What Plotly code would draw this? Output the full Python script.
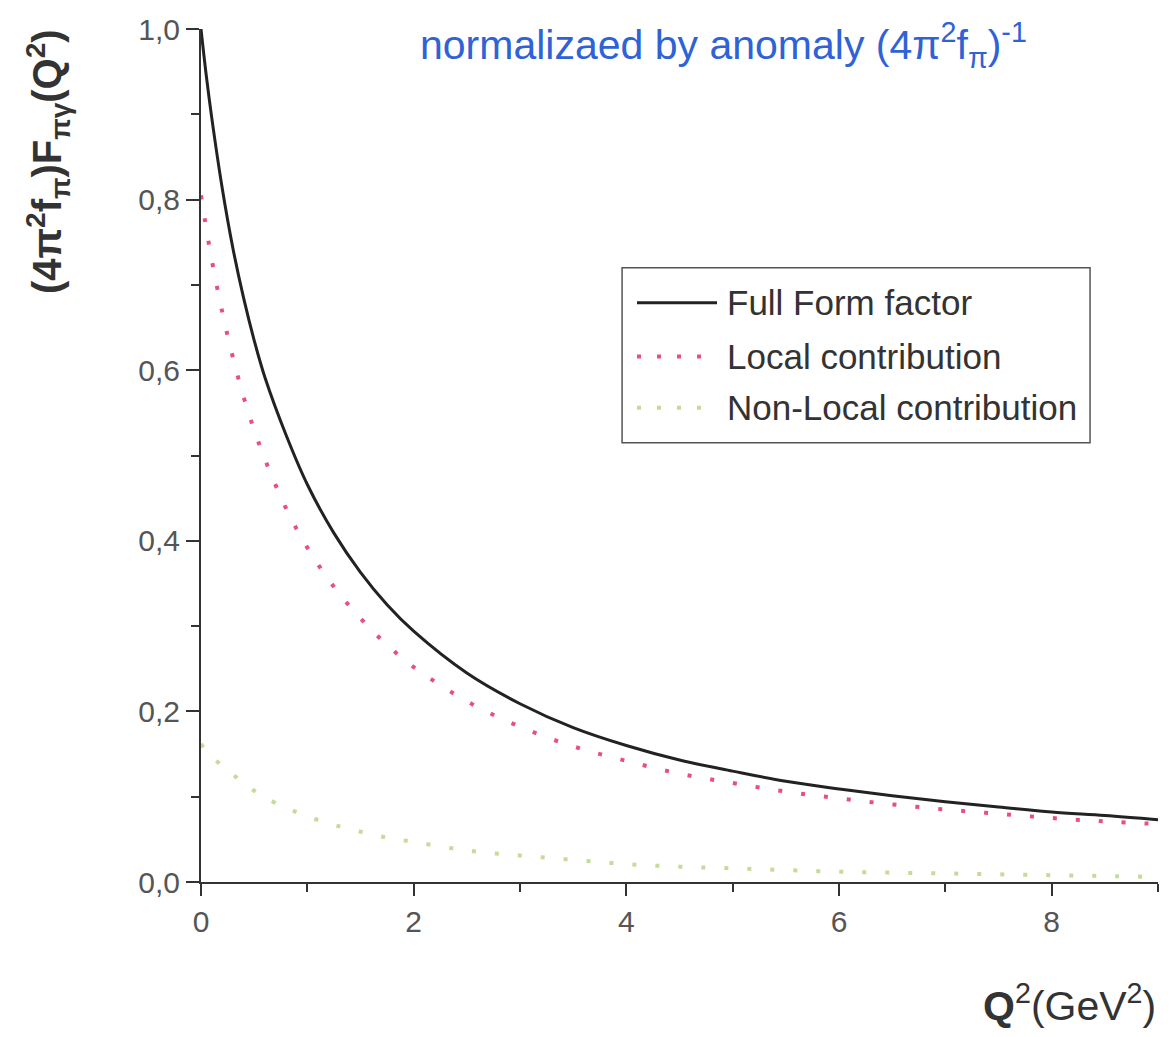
import plotly.graph_objects as go

# ---- data ----
q2 = [0, 0.05, 0.1, 0.2, 0.3, 0.4, 0.5, 0.6, 0.8, 1.0, 1.25, 1.5, 1.75, 2.0,
      2.5, 3.0, 3.5, 4.0, 4.5, 5.0, 5.5, 6.0, 6.5, 7.0, 7.5, 8.0, 8.5, 9.0]
full_ff = [1.0, 0.945, 0.897, 0.813, 0.743, 0.685, 0.635, 0.592, 0.524, 0.466,
           0.409, 0.363, 0.325, 0.294, 0.245, 0.209, 0.181, 0.160, 0.143, 0.130,
           0.118, 0.109, 0.101, 0.094, 0.088, 0.082, 0.078, 0.073]
local_c = [0.805, 0.766, 0.730, 0.668, 0.615, 0.569, 0.530, 0.496, 0.438, 0.392,
           0.346, 0.309, 0.278, 0.252, 0.212, 0.182, 0.159, 0.142, 0.127, 0.116,
           0.106, 0.098, 0.091, 0.085, 0.080, 0.075, 0.071, 0.068]
nonlocal_c = [0.162, 0.153, 0.147, 0.136, 0.126, 0.116, 0.107, 0.099, 0.087, 0.077,
              0.067, 0.059, 0.052, 0.047, 0.037, 0.031, 0.026, 0.021, 0.018, 0.016,
              0.014, 0.012, 0.011, 0.010, 0.009, 0.008, 0.007, 0.006]

series_names = ["Full Form factor", "Local contribution", "Non-Local contribution"]
x_ticks = [0, 2, 4, 6, 8]
y_ticks = [0.0, 0.2, 0.4, 0.6, 0.8, 1.0]
y_tick_text = ["0,0", "0,2", "0,4", "0,6", "0,8", "1,0"]

FONT = "Liberation Sans, Arial, sans-serif"
C_FULL = "#222222"
C_LOCAL = "#e8507a"
C_NONLOCAL = "#c4dc98"
DOTS = "4px,19px"

fig = go.Figure()
fig.add_trace(go.Scatter(x=q2, y=full_ff, mode="lines", name=series_names[0],
                         line=dict(color=C_FULL, width=3, shape="spline"),
                         showlegend=False))
fig.add_trace(go.Scatter(x=q2, y=local_c, mode="lines", name=series_names[1],
                         line=dict(color=C_LOCAL, width=4, shape="spline", dash=DOTS),
                         showlegend=False))
fig.add_trace(go.Scatter(x=q2, y=nonlocal_c, mode="lines", name=series_names[2],
                         line=dict(color=C_NONLOCAL, width=4, shape="spline", dash=DOTS),
                         showlegend=False))

# manual legend (box, samples, labels)
lx0, lx1, ly0, ly1 = 0.440, 0.929, 0.515, 0.720
fig.add_shape(type="rect", xref="paper", yref="paper", x0=lx0, x1=lx1, y0=ly0, y1=ly1,
              line=dict(color="#555555", width=1.5), fillcolor="rgba(0,0,0,0)")
entry_y = [0.679, 0.616, 0.556]
styles = [dict(color=C_FULL, width=3),
          dict(color=C_LOCAL, width=4, dash="4px,16px"),
          dict(color=C_NONLOCAL, width=4, dash="4px,16px")]
for yy, st, nm in zip(entry_y, styles, series_names):
    fig.add_shape(type="line", xref="paper", yref="paper", x0=0.4556, x1=0.5392,
                  y0=yy, y1=yy, line=st)
    fig.add_annotation(xref="paper", yref="paper", x=0.5480, y=yy, text=nm,
                       showarrow=False, xanchor="left", yanchor="middle",
                       font=dict(family=FONT, size=35, color="#333333"))

# note at top
fig.add_annotation(xref="paper", yref="paper", x=0.546, y=0.981,
                   text="normalizaed by anomaly (4π<sup>2</sup>f<sub>π</sub>)<sup>-1</sup>",
                   showarrow=False, xanchor="center", yanchor="middle",
                   font=dict(family=FONT, size=41, color="#2f62d6"))

# y axis title
fig.add_annotation(xref="paper", yref="paper", x=-0.160, y=0.845,
                   text="<b>(4π<sup>2</sup>f<sub>π</sub>)F<sub>πγ</sub>(Q<sup>2</sup>)</b>",
                   showarrow=False, textangle=-90, xanchor="center", yanchor="middle",
                   font=dict(family=FONT, size=40, color="#333333"))

# x axis title
fig.add_annotation(xref="paper", yref="paper", x=1.0, y=-0.142,
                   text="<b>Q</b><sup>2</sup>(GeV<sup>2</sup>)",
                   showarrow=False, xanchor="right", yanchor="middle",
                   font=dict(family=FONT, size=41, color="#333333"))

fig.update_layout(
    width=1171, height=1037,
    margin=dict(l=201, r=13, t=29, b=155),
    paper_bgcolor="white", plot_bgcolor="white",
    font=dict(family=FONT, color="#444444"),
    xaxis=dict(range=[0, 9], tickvals=x_ticks, ticks="outside", ticklen=12, tickwidth=1.5,
               tickcolor="#333333", showline=True, linecolor="#333333", linewidth=2,
               showgrid=False, zeroline=False, tickfont=dict(size=30, color="#555555"),
               minor=dict(ticks="outside", ticklen=8, dtick=1, tickcolor="#333333", tickwidth=1.5)),
    yaxis=dict(range=[0, 1], tickvals=y_ticks, ticktext=y_tick_text, ticks="outside", ticklen=13,
               tickwidth=1.5, tickcolor="#333333", showline=True, linecolor="#333333", linewidth=2,
               showgrid=False, zeroline=False, tickfont=dict(size=30, color="#555555"),
               minor=dict(ticks="outside", ticklen=8, dtick=0.1, tickcolor="#333333", tickwidth=1.5)),
)

fig.write_html("out.html")
